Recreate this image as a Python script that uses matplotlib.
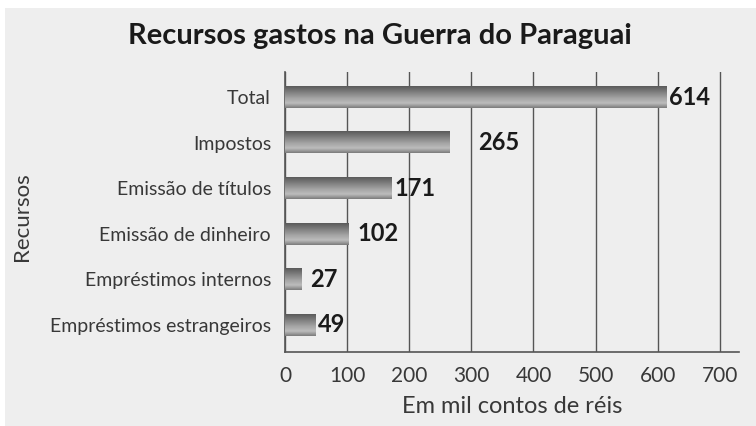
import numpy as np
import matplotlib.pyplot as plt
from matplotlib.colors import LinearSegmentedColormap
from matplotlib.patches import Rectangle

# Data
categorias = ["Empréstimos estrangeiros", "Empréstimos internos", "Emissão de dinheiro",
              "Emissão de títulos", "Impostos", "Total"]
valores = [49, 27, 102, 171, 265, 614]
label_offsets = [2, 8, 9, 3, 28, 3]  # gap between bar end and value label (px)

plt.rcParams["font.family"] = ["Lato", "DejaVu Sans"]

fig = plt.figure(figsize=(7.56, 4.26), dpi=100)
fig.patch.set_facecolor("white")
fig.add_artist(Rectangle((5 / 756, 0), 1, 1 - 8 / 426, transform=fig.transFigure,
                         facecolor="#eeeeee", edgecolor="none", zorder=-10))

ax = fig.add_axes([285 / 756, 1 - 352 / 426, (738.5 - 285) / 756, (352 - 72) / 426])
ax.set_facecolor("none")

# cylinder-like gradient for bars
cmap = LinearSegmentedColormap.from_list("bar", [
    (0.0, "#7c7c7c"), (0.22, "#bcbcbc"), (0.45, "#a4a4a4"), (1.0, "#5a5a5a")])
grad = np.linspace(0, 1, 64).reshape(-1, 1)
h = 0.48
for i, v in enumerate(valores):
    ax.imshow(grad, cmap=cmap, aspect="auto", extent=(0, v, i + h / 2, i - h / 2),
              zorder=3, interpolation="bilinear")
    ax.annotate(str(v), xy=(v, i), xytext=(label_offsets[i], 0), textcoords="offset pixels",
                ha="left", va="center", fontsize=17, fontweight="bold", color="#1a1a1a",
                zorder=4)

ax.set_xlim(0, 730)
ax.set_ylim(-0.6, 5.55)

ax.set_xticks(range(0, 701, 100))
ax.set_yticks(range(len(categorias)))
ax.set_yticklabels(categorias)
ax.tick_params(axis="y", length=0, pad=10, labelsize=14, labelcolor="#383838")
ax.tick_params(axis="x", length=0, pad=10, labelsize=15, labelcolor="#383838")

ax.grid(axis="x", color="#555555", linewidth=1.0, zorder=1)
ax.set_axisbelow(True)
for s in ["top", "right"]:
    ax.spines[s].set_visible(False)
for s in ["left", "bottom"]:
    ax.spines[s].set_color("#555555")
    ax.spines[s].set_linewidth(1.2)

ax.set_xlabel("Em mil contos de réis", fontsize=17, color="#383838", labelpad=7)
fig.text(22 / 756, 1 - 217 / 426, "Recursos", rotation=90, ha="center", va="center",
         fontsize=16, color="#383838")
fig.text(380 / 756, 1 - 36 / 426, "Recursos gastos na Guerra do Paraguai", ha="center",
         va="center", fontsize=21, fontweight="bold", color="#1a1a1a")

fig.savefig("out.png", dpi=100)
